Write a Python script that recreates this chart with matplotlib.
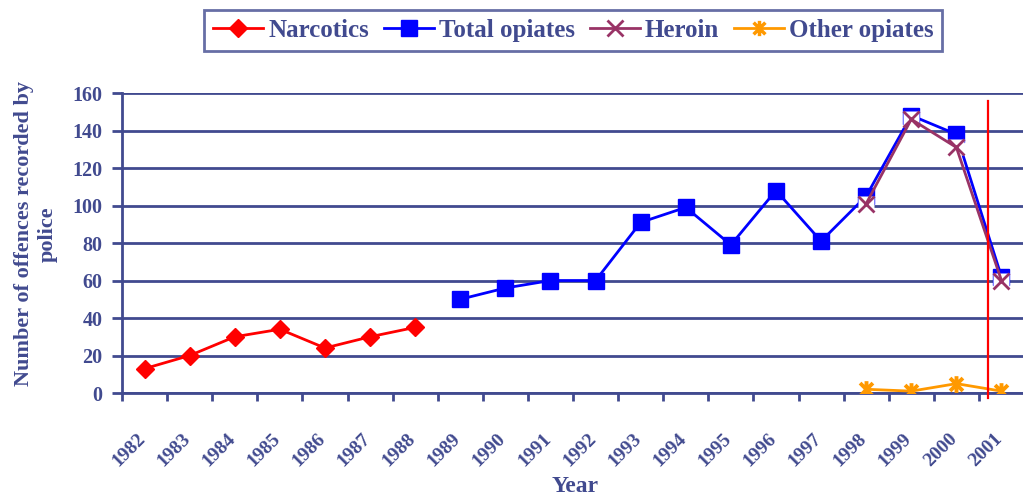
#!/usr/bin/env python3
"""Offences recorded by police: narcotics and opiates, 1982-2001."""

import numpy as np
import matplotlib
matplotlib.use('Agg')
import matplotlib.pyplot as plt
from matplotlib.path import Path
from matplotlib.lines import Line2D

# Data
years = [str(y) for y in range(1982, 2002)]

narcotics_years = ['1982', '1983', '1984', '1985', '1986', '1987', '1988']
narcotics = [13, 20, 30, 34, 24, 30, 35]

opiates_years = ['1989', '1990', '1991', '1992', '1993', '1994', '1995',
                 '1996', '1997', '1998', '1999', '2000', '2001']
total_opiates = [50, 56, 60, 60, 91, 99, 79, 108, 81, 105, 148, 138, 62]

heroin_years = ['1998', '1999', '2000', '2001']
heroin = [101, 146, 131, 60]
other_opiates = [2, 1, 5, 1]

# red marker line drawn across the 2001 category
marker_line_pos = 18.7
marker_line_range = (-2.7, 156)

AXIS_COLOR = '#414a8f'
FONT = 'Liberation Serif'

plt.rcParams['font.family'] = FONT
plt.rcParams['font.weight'] = 'bold'


def idx(labels):
    return [years.index(y) for y in labels]


# Excel style star marker: an X with a vertical bar through it
star = Path([(-1, -1), (1, 1), (-1, 1), (1, -1), (0, -1.3), (0, 1.3)],
            [Path.MOVETO, Path.LINETO, Path.MOVETO, Path.LINETO,
             Path.MOVETO, Path.LINETO])

fig = plt.figure(figsize=(10.23, 4.99), dpi=100)
ax = fig.add_axes([0.1193, 0.2124, 0.8817, 0.6012])

ax.plot(idx(narcotics_years), narcotics, color='#ff0000', lw=2,
        marker='D', ms=9, mec='#ff0000', mfc='#ff0000', zorder=3)
ax.plot(idx(opiates_years), total_opiates, color='#0000ff', lw=2,
        marker='s', ms=11, mec='#0000ff', mfc='#0000ff', zorder=3)
# heroin markers sit on a white box (hides the square underneath)
ax.plot(idx(heroin_years), heroin, ls='none', marker='s', ms=11,
        mfc='white', mec='none', zorder=4)
ax.plot(idx(heroin_years), heroin, color='#993366', lw=2,
        marker='x', ms=11, mew=2, zorder=5)
ax.plot(idx(heroin_years), other_opiates, color='#ff9900', lw=2,
        marker=star, ms=12, mew=2.8, zorder=5)

ax.plot([marker_line_pos, marker_line_pos], marker_line_range,
        color='#ff0000', lw=1.6, zorder=6, clip_on=False)

ax.set_xlim(-0.5, len(years) - 0.5)
ax.set_ylim(0, 160)
ax.set_yticks(np.arange(0, 161, 20))
ax.set_xticks(np.arange(len(years) + 1) - 0.5, minor=True)
# year labels sit slightly left of the category centre (zero-length ticks)
ax.set_xticks(np.arange(len(years)) - 0.18)
ax.set_xticklabels(years, rotation=45, ha='right', va='top',
                   rotation_mode='anchor', fontweight='bold')
ax.set_yticklabels([str(v) for v in range(0, 161, 20)], fontweight='bold')

ax.tick_params(axis='x', which='major', length=0, pad=27,
               labelsize=14, labelcolor=AXIS_COLOR)
ax.tick_params(axis='x', which='minor', length=6, width=2,
               color=AXIS_COLOR, direction='out')
ax.tick_params(axis='y', length=7, width=2, color=AXIS_COLOR, pad=7,
               labelsize=14.5, labelcolor=AXIS_COLOR)

ax.grid(axis='y', color=AXIS_COLOR, lw=2)
ax.set_axisbelow(True)
for side in ('top', 'right'):
    ax.spines[side].set_visible(False)
for side in ('left', 'bottom'):
    ax.spines[side].set_color(AXIS_COLOR)
    ax.spines[side].set_linewidth(2)

fig.text(36 / 1023, 1 - 234 / 499, 'Number of offences recorded by\npolice',
         rotation=90, ha='center', va='center', multialignment='center',
         fontsize=16, fontweight='bold', color=AXIS_COLOR, linespacing=1.3)
fig.text(575 / 1023, 1 - 487 / 499, 'Year', ha='center', va='center',
         fontsize=17, fontweight='bold', color=AXIS_COLOR)

handles = [
    Line2D([], [], color='#ff0000', lw=2, marker='D', ms=9),
    Line2D([], [], color='#0000ff', lw=2, marker='s', ms=11),
    Line2D([], [], color='#993366', lw=2, marker='x', ms=11, mew=2),
    Line2D([], [], color='#ff9900', lw=2, marker=star, ms=11, mew=2.5),
]
leg = fig.legend(handles, ['Narcotics', 'Total opiates', 'Heroin',
                           'Other opiates'],
                 loc='center', bbox_to_anchor=(0.5605, 0.939), ncol=4,
                 fancybox=False, frameon=True,
                 prop={'family': FONT, 'weight': 'bold', 'size': 18},
                 handlelength=2.0, handletextpad=0.2, columnspacing=0.6,
                 borderpad=0.35, borderaxespad=0)
leg.get_frame().set_edgecolor(AXIS_COLOR)
leg.get_frame().set_linewidth(2)
for t in leg.get_texts():
    t.set_color(AXIS_COLOR)

fig.savefig('out.png', dpi=100)
